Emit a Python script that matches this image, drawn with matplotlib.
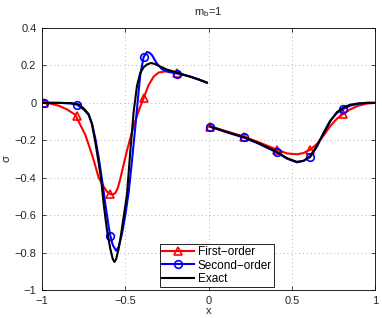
"""Recreate the m_b=1 sigma comparison chart."""

import matplotlib

matplotlib.use("Agg")
import matplotlib.pyplot as plt
from matplotlib.lines import Line2D

plt.rcParams["font.family"] = ["Liberation Sans", "DejaVu Sans"]
plt.rcParams["mathtext.fontset"] = "custom"
plt.rcParams["mathtext.rm"] = "Liberation Sans"

# left segment
xl_exact = [-1.0, -0.9, -0.82, -0.78, -0.75, -0.72, -0.70, -0.68, -0.66, -0.645, -0.63,
            -0.61, -0.59, -0.575, -0.565, -0.555, -0.54, -0.53, -0.51, -0.49, -0.47,
            -0.45, -0.43, -0.41, -0.39, -0.37, -0.345, -0.32, -0.29, -0.25, -0.19,
            -0.15, -0.11, -0.06, -0.01]
yl_exact = [0.0, 0.0, -0.002, -0.008, -0.03, -0.06, -0.115, -0.21, -0.32, -0.41, -0.54,
            -0.68, -0.78, -0.835, -0.85, -0.835, -0.78, -0.73, -0.61, -0.49, -0.26,
            -0.05, 0.09, 0.16, 0.19, 0.205, 0.213, 0.207, 0.194, 0.178, 0.162,
            0.15, 0.14, 0.125, 0.108]

xl_second = [-1.0, -0.9, -0.83, -0.79, -0.75, -0.72, -0.70, -0.68, -0.66, -0.64, -0.62,
             -0.60, -0.59, -0.575, -0.555, -0.54, -0.52, -0.50, -0.48, -0.46, -0.44,
             -0.42, -0.41, -0.39, -0.37, -0.355, -0.34, -0.31, -0.28, -0.24, -0.19,
             -0.15, -0.11, -0.06, -0.01]
yl_second = [0.0, 0.0, -0.003, -0.01, -0.035, -0.065, -0.11, -0.19, -0.29, -0.41, -0.54,
             -0.66, -0.71, -0.76, -0.79, -0.77, -0.70, -0.60, -0.48, -0.31, -0.13,
             0.06, 0.15, 0.245, 0.272, 0.268, 0.255, 0.21, 0.18, 0.165, 0.157,
             0.15, 0.14, 0.125, 0.108]

xl_first = [-1.0, -0.95, -0.9, -0.85, -0.80, -0.77, -0.74, -0.71, -0.69, -0.66, -0.63,
            -0.61, -0.59, -0.575, -0.56, -0.545, -0.53, -0.51, -0.49, -0.47, -0.45,
            -0.43, -0.41, -0.39, -0.36, -0.33, -0.30, -0.26, -0.22, -0.19, -0.15,
            -0.11, -0.06, -0.01]
yl_first = [0.0, -0.004, -0.015, -0.035, -0.064, -0.118, -0.171, -0.25, -0.305, -0.40, -0.447,
            -0.475, -0.488, -0.49, -0.482, -0.455, -0.405, -0.33, -0.255, -0.19, -0.125,
            -0.07, -0.02, 0.025, 0.095, 0.14, 0.162, 0.168, 0.165, 0.16, 0.15,
            0.14, 0.125, 0.108]

# right segment
xr_exact = [0.01, 0.1, 0.21, 0.3, 0.41, 0.47, 0.53, 0.57, 0.61, 0.65, 0.69, 0.73,
            0.77, 0.81, 0.85, 0.9, 0.95, 1.0]
yr_exact = [-0.127, -0.153, -0.183, -0.215, -0.262, -0.295, -0.315, -0.31, -0.285,
            -0.23, -0.165, -0.1, -0.05, -0.025, -0.01, -0.003, 0.0, 0.0]

xr_second = [0.01, 0.1, 0.21, 0.3, 0.41, 0.47, 0.53, 0.57, 0.61, 0.65, 0.69, 0.73,
             0.77, 0.81, 0.85, 0.9, 0.95, 1.0]
yr_second = [-0.127, -0.155, -0.185, -0.218, -0.265, -0.298, -0.318, -0.31, -0.29,
             -0.235, -0.16, -0.095, -0.055, -0.032, -0.015, -0.005, 0.0, 0.0]

xr_first = [0.01, 0.1, 0.21, 0.3, 0.41, 0.47, 0.53, 0.57, 0.61, 0.65, 0.69, 0.73,
            0.77, 0.81, 0.85, 0.9, 0.95, 1.0]
yr_first = [-0.125, -0.15, -0.18, -0.21, -0.25, -0.27, -0.275, -0.268, -0.25,
            -0.22, -0.175, -0.125, -0.085, -0.058, -0.035, -0.015, -0.004, 0.0]

# marker nodes
x_nodes = [-0.99, -0.79, -0.59, -0.39, -0.19, 0.01, 0.21, 0.41, 0.61, 0.81]
y_first_nodes = [0.0, -0.068, -0.488, 0.025, 0.16, -0.128, -0.18, -0.25, -0.25, -0.058]
y_second_nodes = [0.0, -0.011, -0.71, 0.245, 0.156, -0.128, -0.185, -0.265, -0.29, -0.032]

RED = (1.0, 0.0, 0.0)
BLUE = (0.0, 0.0, 1.0)
LW = 1.5

fig = plt.figure(figsize=(3.82, 3.18), dpi=100)
ax = fig.add_axes([0.110, 0.088, 0.872, 0.824])

ax.plot(xl_first, yl_first, color=RED, lw=LW)
ax.plot(xr_first, yr_first, color=RED, lw=LW)
ax.plot(x_nodes, y_first_nodes, ls="none", marker="^", ms=6, mfc="none",
        mec=RED, mew=1.2)
ax.plot(xl_second, yl_second, color=BLUE, lw=LW)
ax.plot(xr_second, yr_second, color=BLUE, lw=LW)
ax.plot(x_nodes, y_second_nodes, ls="none", marker="o", ms=5.5, mfc="none",
        mec=BLUE, mew=1.2)
ax.plot(xl_exact, yl_exact, color="black", lw=LW)
ax.plot(xr_exact, yr_exact, color="black", lw=LW)

ax.set_xlim(-1, 1)
ax.set_ylim(-1, 0.4)
ax.set_xticks([-1, -0.5, 0, 0.5, 1])
ax.set_xticklabels(["\u22121", "\u22120.5", "0", "0.5", "1"])
yt = [-1, -0.8, -0.6, -0.4, -0.2, 0, 0.2, 0.4]
ax.set_yticks(yt)
ax.set_yticklabels(["\u22121", "\u22120.8", "\u22120.6", "\u22120.4", "\u22120.2",
                    "0", "0.2", "0.4"])
ax.tick_params(direction="in", top=True, right=True, labelsize=8, length=3,
               width=0.5, pad=4, labelcolor="0.15")
ax.grid(True, ls=(0, (1, 3)), color="0.7", lw=0.7)
for s in ax.spines.values():
    s.set_linewidth(0.6)

ax.set_xlabel("x", fontsize=8, labelpad=0, color="0.15")
ax.set_ylabel("\u03c3", fontsize=8, labelpad=2, color="0.15")
ax.set_title("m$_\\mathrm{b}$=1", fontsize=8, pad=9, color="0.15")

handles = [
    Line2D([], [], color=RED, lw=LW, marker="^", ms=6, mfc="none", mew=1.2),
    Line2D([], [], color=BLUE, lw=LW, marker="o", ms=5.5, mfc="none", mew=1.2),
    Line2D([], [], color="black", lw=LW),
]
leg = ax.legend(handles, ["First\u2212order", "Second\u2212order", "Exact"],
                loc="lower left", bbox_to_anchor=(0.354, 0.011), fontsize=8.5,
                fancybox=False, edgecolor="black", framealpha=1,
                borderpad=0.2, labelspacing=0.1, handlelength=2.7,
                handletextpad=0.3, borderaxespad=0)
leg.get_frame().set_linewidth(0.6)

fig.savefig("out.png", dpi=100)
